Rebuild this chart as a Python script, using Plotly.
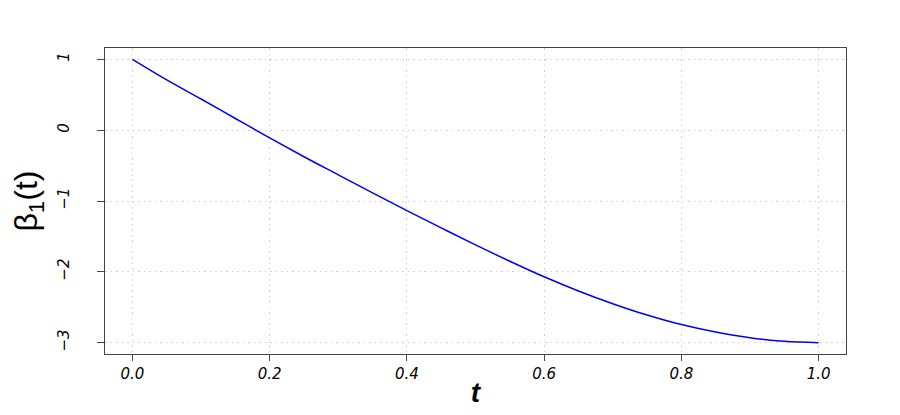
import plotly.graph_objects as go

t_values = [0.0, 0.05, 0.1, 0.15, 0.2, 0.25, 0.3, 0.35, 0.4, 0.45, 0.5,
            0.55, 0.6, 0.65, 0.7, 0.75, 0.8, 0.85, 0.9, 0.95, 1.0]
beta_values = [1.0, 0.71, 0.44, 0.165, -0.11, -0.375, -0.63, -0.885, -1.135, -1.38, -1.62,
               -1.85, -2.07, -2.27, -2.45, -2.61, -2.745, -2.85, -2.93, -2.98, -3.0]
x_ticks = [0.0, 0.2, 0.4, 0.6, 0.8, 1.0]
x_tick_labels = ["0.0", "0.2", "0.4", "0.6", "0.8", "1.0"]
y_ticks = [1, 0, -1, -2, -3]
y_tick_labels = ["1", "0", "\u22121", "\u22122", "\u22123"]

fig = go.Figure()
fig.add_trace(go.Scatter(x=t_values, y=beta_values, mode="lines",
                         line=dict(color="#0000ee", width=1.5, shape="spline", smoothing=1.0),
                         showlegend=False))

tickfont = dict(family="DejaVu Sans", size=15, color="black", style="italic")
grid_dash = "1.5px,4px"

# the page body adds an 8px offset, so the figure is made 8px smaller
fig.update_layout(
    width=892, height=407,
    margin=dict(l=97, r=54, t=40, b=61, autoexpand=False),
    paper_bgcolor="white", plot_bgcolor="white",
    xaxis=dict(range=[-0.04, 1.04], tickvals=x_ticks, ticktext=x_tick_labels,
               automargin=False,
               showgrid=True, gridcolor="#cfcfcf", griddash=grid_dash, gridwidth=1.2,
               zeroline=False, showline=True, linecolor="#444444", linewidth=1, mirror=True,
               ticks="outside", ticklen=6, tickcolor="#444444", tickfont=tickfont,
               ticklabelstandoff=0,
               title=dict(text="<b><i>t</i></b>", font=dict(family="Liberation Sans", size=28, color="black"),
                          standoff=0)),
    yaxis=dict(range=[-3.16, 1.16], tickvals=y_ticks, ticktext=y_tick_labels,
               automargin=False,
               showgrid=True, gridcolor="#cfcfcf", griddash=grid_dash, gridwidth=1.2,
               zeroline=False, showline=True, linecolor="#444444", linewidth=1, mirror=True,
               ticks="outside", ticklen=7, tickcolor="#444444", tickfont=tickfont,
               tickangle=-90, ticklabelstandoff=22,
               title=dict(text="\u03b2<sub>1</sub>(t)", font=dict(family="Liberation Sans", size=32, color="black"),
                          standoff=15)),
)

fig.write_html("out.html")
